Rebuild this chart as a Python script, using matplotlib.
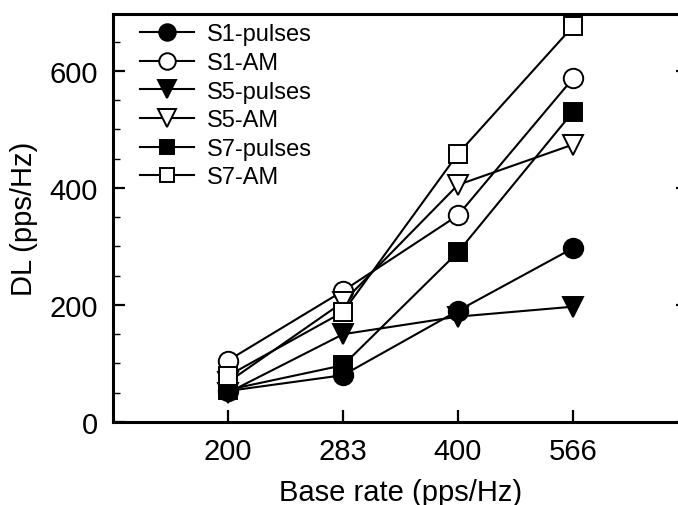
import numpy as np
import matplotlib
matplotlib.use("Agg")
import matplotlib.pyplot as plt
from matplotlib.ticker import FixedLocator, NullLocator, MultipleLocator

plt.rcParams['font.family'] = ['Liberation Sans', 'DejaVu Sans']

rates = [200, 283, 400, 566]
s1_pulses = [53, 80, 190, 297]
s1_am = [105, 224, 353, 587]
s5_pulses = [50, 150, 180, 197]
s5_am = [68, 205, 405, 474]
s7_pulses = [55, 97, 290, 530]
s7_am = [79, 188, 458, 676]

names = ["S1-pulses", "S1-AM", "S5-pulses", "S5-AM", "S7-pulses", "S7-AM"]
values = [s1_pulses, s1_am, s5_pulses, s5_am, s7_pulses, s7_am]
markers = ["o", "o", "v", "v", "s", "s"]
sizes = [14, 14, 15, 15, 12.5, 12.5]
faces = ["black", "white", "black", "white", "black", "white"]

fig = plt.figure(figsize=(6.78, 5.06), dpi=100)
# right edge of the frame falls just outside the picture, as in the original
ax = fig.add_axes([113 / 678, 1 - 423 / 506, (688 - 113) / 678, (423 - 15) / 506])

for name, vals, mk, ms, fc in zip(names, values, markers, sizes, faces):
    ax.plot(rates, vals, color="black", lw=1.5, marker=mk, markersize=ms,
            markerfacecolor=fc, markeredgecolor="black", markeredgewidth=1.4,
            label=name)

ax.set_xscale("log")
ax.set_xlim(200 / np.sqrt(2), 566 * np.sqrt(2))
ax.xaxis.set_major_locator(FixedLocator(rates))
ax.xaxis.set_minor_locator(NullLocator())
ax.set_xticklabels([str(r) for r in rates])

ax.set_ylim(0, 697)
ax.yaxis.set_major_locator(MultipleLocator(200))
ax.yaxis.set_minor_locator(MultipleLocator(50))

for s in ax.spines.values():
    s.set_linewidth(2.2)

ax.tick_params(axis="both", which="major", direction="in", length=8.5, width=1.6,
               labelsize=21, right=True, top=False)
ax.tick_params(axis="both", which="minor", direction="in", length=5, width=1.0,
               right=True, top=False)
ax.tick_params(axis="y", which="major", pad=11)
ax.tick_params(axis="x", which="major", pad=11)

ax.set_xlabel("Base rate (pps/Hz)", fontsize=21, labelpad=9)
ax.set_ylabel("DL (pps/Hz)", fontsize=21, labelpad=8)

ax.legend(loc="upper left", frameon=False, fontsize=17, handlelength=2.3,
          handletextpad=0.55, labelspacing=0.28, borderaxespad=0.0,
          markerscale=0.85, bbox_to_anchor=(0.03, 1.0))

fig.savefig("out.png", dpi=100)
